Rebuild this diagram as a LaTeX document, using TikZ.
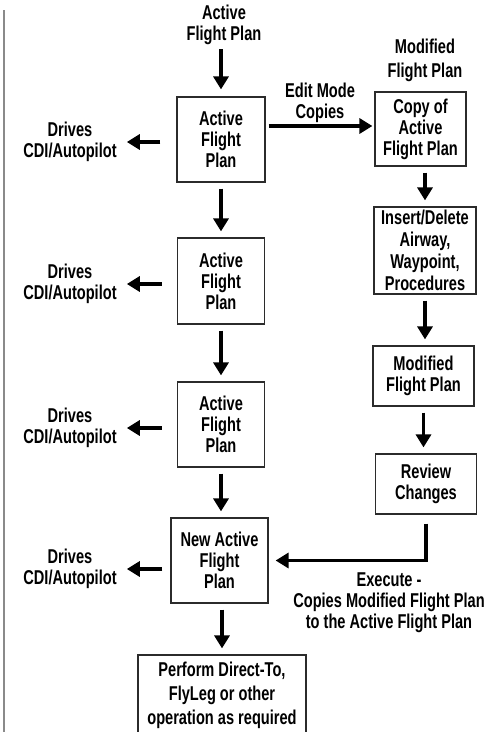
\documentclass[tikz,border=0pt]{standalone}
\usepackage{fontspec}
\setmainfont{Liberation Sans}[FakeStretch=0.73]
\usepackage{xcolor}
\usepackage{tikz}
\usetikzlibrary{arrows.meta,positioning}
\definecolor{boxline}{HTML}{2B2B2B}
\definecolor{sidebar}{HTML}{8A8A8A}

\begin{document}
\begin{tikzpicture}[
  x=1pt, y=-1pt,
  plan/.style={rectangle, draw=boxline, line width=1.2pt, inner sep=1pt,
               align=center, font=\bfseries\fontsize{20}{21}\selectfont},
  note/.style={align=center, inner sep=2pt,
               font=\bfseries\fontsize{20}{21}\selectfont},
  flow/.style={-{Triangle[length=13pt,width=15pt]}, line width=3.5pt,
               shorten <=6pt, shorten >=6pt},
]
\useasboundingbox (0,0) rectangle (491,732);

% Side rule
\draw[sidebar, line width=2pt] (4,10) -- (4,740);

% Active column
\node[note] (top) at (224,25) {Active\\Flight Plan};
\node[plan, minimum width=88pt, minimum height=85pt] (b1) at (221,139.5) {Active\\Flight\\Plan};
\node[plan, minimum width=87pt, minimum height=86pt] (b2) at (221,281) {Active\\Flight\\Plan};
\node[plan, minimum width=87pt, minimum height=85pt] (b3) at (221,424.5) {Active\\Flight\\Plan};
\node[plan, minimum width=97pt, minimum height=85pt] (b4) at (219.5,560.5) {New Active\\Flight\\Plan};
\node[plan, minimum width=168pt, minimum height=81pt,
      font=\bfseries\fontsize{20}{24}\selectfont] (perf) at (222,695.5) {Perform Direct-To,\\FlyLeg or other\\operation as required};

% Drives labels
\node[note] (d1) at (70,142) {Drives\\CDI/Autopilot};
\node[note] (d2) at (70,284) {Drives\\CDI/Autopilot};
\node[note] (d3) at (70,428) {Drives\\CDI/Autopilot};
\node[note] (d4) at (70,569) {Drives\\CDI/Autopilot};

% Modified column
\node[note, font=\bfseries\fontsize{20}{24}\selectfont] (mtop) at (425,60) {Modified\\Flight Plan};
\node[plan, minimum width=91pt, minimum height=74pt] (copy) at (420.5,129) {Copy of\\Active\\Flight Plan};
\node[plan, minimum width=102pt, minimum height=87pt,
      font=\bfseries\fontsize{20}{22}\selectfont] (ins) at (425,250.5) {Insert/Delete\\Airway,\\Waypoint,\\Procedures};
\node[plan, minimum width=101pt, minimum height=60pt] (mod) at (423.5,376) {Modified\\Flight Plan};
\node[plan, minimum width=101pt, minimum height=60pt] (rev) at (426,484) {Review\\Changes};
\node[note] (exec) at (389,603) {Execute -\\Copies Modified Flight Plan\\to the Active Flight Plan};

% Arrows
\draw[flow, shorten <=2pt, shorten >=7pt] (b1.north |- top.south) -- (b1.north);
\draw[flow] (b1.south) -- (b1.south |- b2.north);
\draw[flow] (b2.south) -- (b2.south |- b3.north);
\draw[flow] (b3.south) -- (b3.south |- b4.north);
\draw[flow] (perf.north |- b4.south) -- (perf.north);

\draw[flow, shorten <=16pt, shorten >=8pt] (b1.west |- d1) -- (d1.east);
\draw[flow, shorten <=15pt, shorten >=8pt] (b2.west |- d2) -- (d2.east);
\draw[flow, shorten <=15pt, shorten >=8pt] (b3.west |- d3) -- (d3.east);
\draw[flow, shorten <=8pt, shorten >=8pt] (b4.west |- d4) -- (d4.east);

\draw[flow, shorten <=3pt, shorten >=2pt] ([yshift=3pt]copy.west -| b1.east) --
  node[note, above] (edit) {Edit Mode\\Copies} ([yshift=3pt]copy.west);
\draw[flow] (ins.north |- copy.south) -- (ins.north);
\draw[flow] (ins.south) -- (ins.south |- mod.north);
\draw[flow] (mod.south) -- (mod.south |- rev.north);
\draw[flow, shorten <=9pt, shorten >=7pt] (rev.south) |- (b4.east);

\end{tikzpicture}
\end{document}
